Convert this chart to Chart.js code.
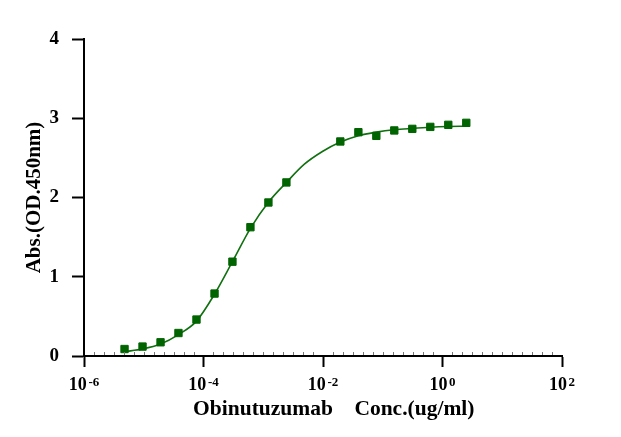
<!DOCTYPE html>
<html>
<head>
<meta charset="utf-8">
<script src="https://cdn.jsdelivr.net/npm/chart.js@4.4.1/dist/chart.umd.min.js"></script>
<style>
  html, body { margin: 0; padding: 0; background: #ffffff; }
  #wrap { width: 621px; height: 437px; }
</style>
</head>
<body>
<div id="wrap"><canvas id="c" width="621" height="437"></canvas></div>
<script>
// Measured points (concentration in ug/ml, absorbance OD450)
const concentrations = [4.77e-6, 9.54e-6, 1.91e-5, 3.81e-5, 7.63e-5, 1.53e-4, 3.05e-4, 6.10e-4, 1.22e-3, 2.44e-3,
                        1.95e-2, 3.91e-2, 7.81e-2, 0.156, 0.3125, 0.625, 1.25, 2.5];
const absorbance = [0.088, 0.119, 0.173, 0.29, 0.46, 0.788, 1.19, 1.625, 1.937, 2.19,
                    2.707, 2.824, 2.778, 2.846, 2.866, 2.891, 2.917, 2.942];

// Fitted curve
const curveConc = [4.77e-6, 9.54e-6, 1.91e-5, 3.81e-5, 7.63e-5, 1.53e-4, 3.05e-4, 6.10e-4, 1.22e-3, 2.44e-3,
                   4.88e-3, 9.77e-3, 1.95e-2, 3.91e-2, 7.81e-2, 0.156, 0.3125, 0.625, 1.25, 2.5];
const curveAbs = [0.055, 0.088, 0.15, 0.27, 0.44, 0.78, 1.19, 1.61, 1.94, 2.19,
                  2.42, 2.58, 2.70, 2.78, 2.825, 2.855, 2.872, 2.886, 2.895, 2.90];

// Axis ticks
const xTickValues = [1e-6, 1e-4, 1e-2, 1, 1e2];
const xTickBase = ['10', '10', '10', '10', '10'];
const xTickExponents = ['-6', '-4', '-2', '0', '2'];
const yTickValues = [0, 1, 2, 3, 4];
const yTickLabels = ['0', '1', '2', '3', '4'];

const xTitle = '    Obinutuzumab    Conc.(ug/ml)';
const yTitle = 'Abs.(OD.450nm)';

const FONT = "'Liberation Serif', 'Times New Roman', serif";

const pointData = concentrations.map((c, i) => ({ x: c, y: absorbance[i] }));
const curveData = curveConc.map((c, i) => ({ x: c, y: curveAbs[i] }));

const minorTicks = {
  id: 'minorTicks',
  afterDraw(chart) {
    const xs = chart.scales.x;
    const ctx = chart.ctx;
    const lo = Math.log10(xs.min), hi = Math.log10(xs.max);
    const perDecade = 6;
    ctx.save();
    ctx.strokeStyle = '#777777';
    ctx.lineWidth = 1;
    const y = chart.chartArea.bottom;
    for (let k = 1; k < (hi - lo) * perDecade; k++) {
      if (k % (2 * perDecade) === 0) continue;
      const v = Math.pow(10, lo + k / perDecade);
      const px = Math.round(xs.getPixelForValue(v)) + 0.5;
      ctx.beginPath();
      ctx.moveTo(px, y - 1);
      ctx.lineTo(px, y - 4);
      ctx.stroke();
    }
    ctx.restore();
  }
};

// Power-of-ten tick labels with raised exponents
const powerLabels = {
  id: 'powerLabels',
  afterDraw(chart) {
    const xs = chart.scales.x;
    const ctx = chart.ctx;
    const baseY = chart.chartArea.bottom + 34;
    ctx.save();
    ctx.fillStyle = '#000';
    ctx.textBaseline = 'alphabetic';
    ctx.textAlign = 'left';
    xTickValues.forEach((v, i) => {
      const px = xs.getPixelForValue(v);
      ctx.font = "bold 18px " + FONT;
      const w1 = ctx.measureText(xTickBase[i]).width;
      ctx.font = "bold 13px " + FONT;
      const w2 = ctx.measureText(xTickExponents[i]).width;
      const gap = 1.7;
      const start = px - (w1 + gap + w2) / 2;
      ctx.font = "bold 18px " + FONT;
      ctx.fillText(xTickBase[i], start, baseY);
      ctx.font = "bold 13px " + FONT;
      ctx.fillText(xTickExponents[i], start + w1 + gap, baseY - 4);
    });
    ctx.restore();
  }
};

new Chart(document.getElementById('c'), {
  type: 'scatter',
  data: {
    datasets: [
      {
        label: 'Obinutuzumab',
        data: pointData,
        showLine: false,
        pointStyle: 'rect',
        pointRadius: 5.2,
        pointBackgroundColor: '#006400',
        pointBorderColor: '#006400',
        pointBorderWidth: 1
      },
      {
        label: 'Fit',
        data: curveData,
        showLine: true,
        borderColor: '#107010',
        borderWidth: 1.6,
        pointRadius: 0,
        cubicInterpolationMode: 'monotone',
        fill: false
      }
    ]
  },
  options: {
    responsive: false,
    animation: false,
    devicePixelRatio: 1,
    layout: { padding: { top: 39, right: 59, left: 0, bottom: 0 } },
    plugins: { legend: { display: false }, tooltip: { enabled: false } },
    scales: {
      x: {
        type: 'logarithmic',
        min: 1e-6,
        max: 1e2,
        afterBuildTicks(scale) { scale.ticks = xTickValues.map(v => ({ value: v })); },
        afterFit(scale) { scale.height = 81; },
        ticks: { display: false, autoSkip: false, maxRotation: 0 },
        grid: { drawOnChartArea: false, drawTicks: true, tickLength: 11, tickColor: '#000', tickWidth: 2 },
        border: { display: true, color: '#000', width: 2 },
        title: {
          display: true,
          text: xTitle,
          color: '#000',
          font: { family: FONT, size: 21.5, weight: 'bold' },
          padding: { top: 0, bottom: 15 }
        }
      },
      y: {
        min: 0,
        max: 4,
        afterBuildTicks(scale) { scale.ticks = yTickValues.map(v => ({ value: v })); },
        afterFit(scale) { scale.width = 84; },
        ticks: {
          padding: 13,
          color: '#000',
          font: { family: FONT, size: 19, weight: 'bold' },
          callback: (v) => { const i = yTickValues.indexOf(v); return i >= 0 ? yTickLabels[i] : ''; }
        },
        grid: { drawOnChartArea: false, drawTicks: true, tickLength: 12, tickColor: '#000', tickWidth: 2 },
        border: { display: true, color: '#000', width: 2 },
        title: {
          display: true,
          text: yTitle,
          color: '#000',
          font: { family: FONT, size: 21, weight: 'bold' },
          padding: { top: 22, bottom: 0 }
        }
      }
    }
  },
  plugins: [minorTicks, powerLabels]
});
</script>
</body>
</html>
